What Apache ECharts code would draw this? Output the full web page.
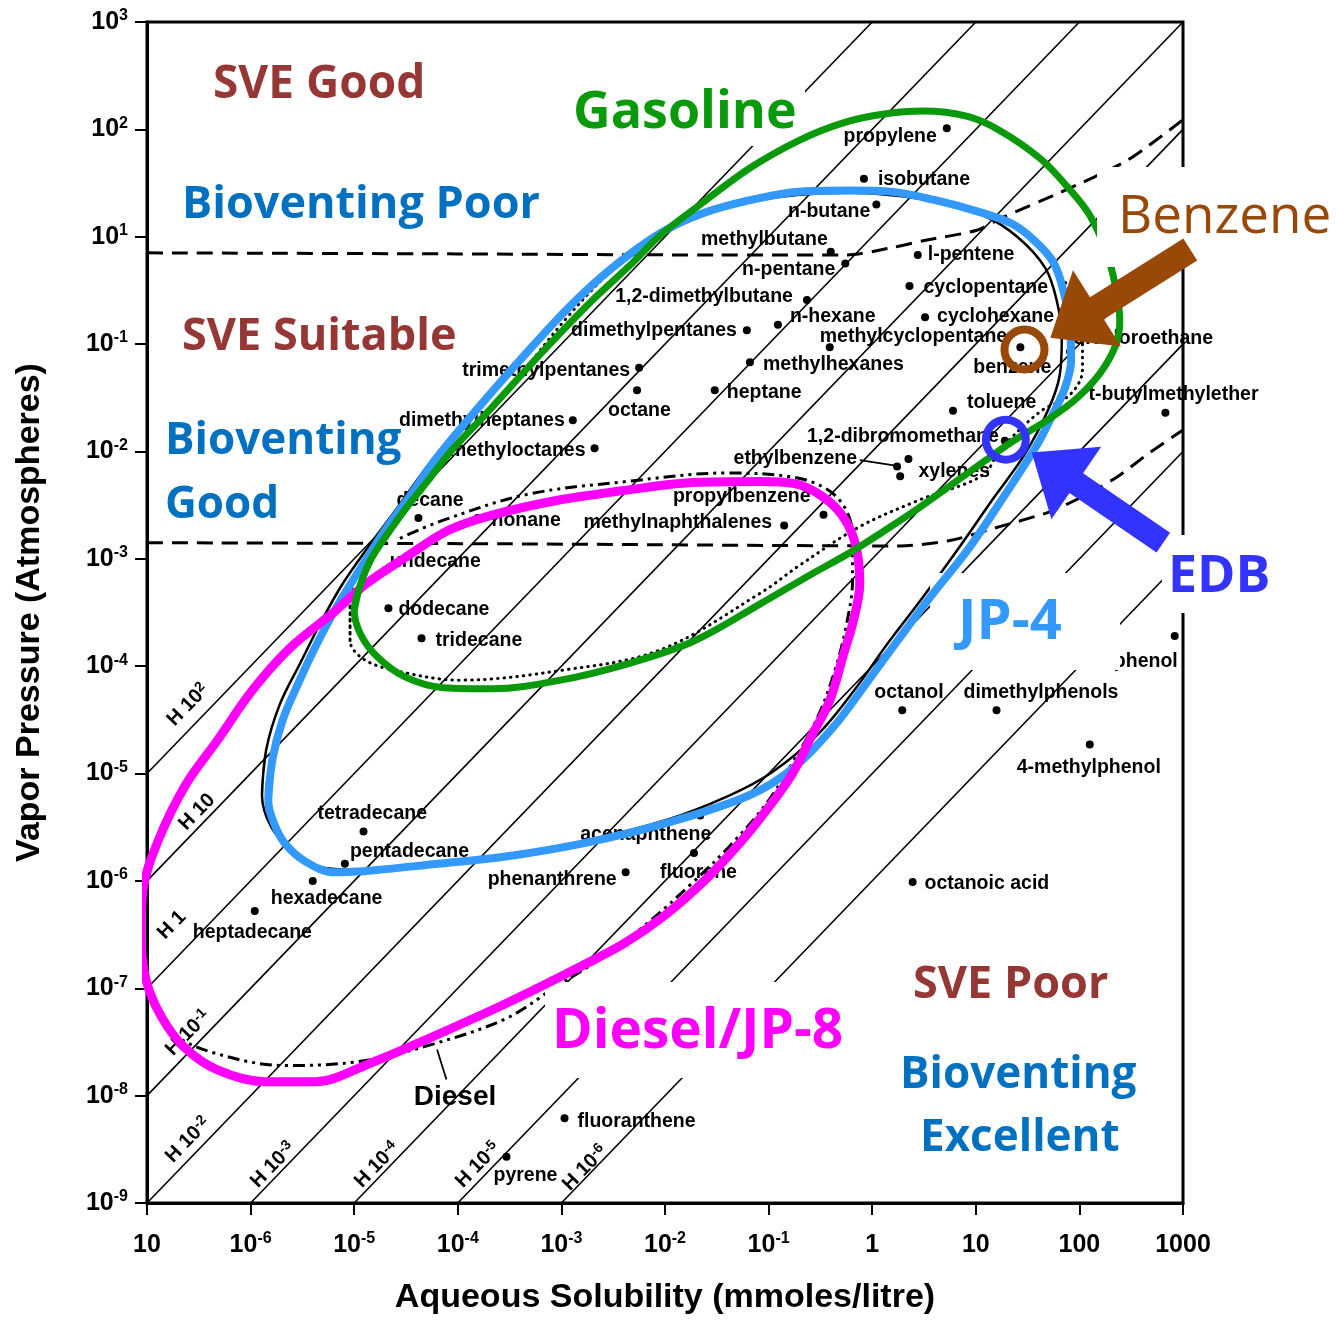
<!DOCTYPE html>
<html>
<head>
<meta charset="utf-8">
<title>Vapor pressure vs aqueous solubility</title>
<script src="https://cdn.jsdelivr.net/npm/echarts@6/dist/echarts.min.js"></script>
<style>
  html, body { margin: 0; padding: 0; background: #fff; }
  #chart { width: 1344px; height: 1322px; }
</style>
</head>
<body>
<div id="chart"></div>
<script>
const xTickLabels = ['10', '10⁻⁶', '10⁻⁵', '10⁻⁴', '10⁻³', '10⁻²', '10⁻¹', '1', '10', '100', '1000'] // 1e-7 .. 1e3
const yTickLabels = ['10⁻⁹', '10⁻⁸', '10⁻⁷', '10⁻⁶', '10⁻⁵', '10⁻⁴', '10⁻³', '10⁻²', '10⁻¹', '10¹', '10²', '10³'] // 1e-9 .. 1e2 (labels as printed)
const henryExponents = [2, 1, 0, -1, -2, -3, -4, -5, -6]
const henryLabels = ['H 10²', 'H 10', 'H 1', 'H 10⁻¹', 'H 10⁻²', 'H 10⁻³', 'H 10⁻⁴', 'H 10⁻⁵', 'H 10⁻⁶']

const compounds = [
  ['propylene', 0.72, 1.01], ['isobutane', -0.08, 0.54], ['n-butane', 0.04, 0.30],
  ['methylbutane', -0.40, -0.14], ['n-pentane', -0.26, -0.25], ['l-pentene', 0.44, -0.17],
  ['cyclopentane', 0.36, -0.46], ['cyclohexane', 0.51, -0.75], ['1,2-dimethylbutane', -0.63, -0.59],
  ['dimethylpentanes', -1.21, -0.87], ['n-hexane', -0.91, -0.82], ['methylcyclopentane', -0.41, -1.03],
  ['methylhexanes', -1.18, -1.17], ['benzene', 1.43, -1.03], ['dichloroethane', 1.91, -1.07],
  ['trimethylpentanes', -2.25, -1.22], ['octane', -2.27, -1.43], ['heptane', -1.52, -1.43],
  ['toluene', 0.78, -1.62], ['t-butylmethylether', 2.83, -1.64], ['dimethylheptanes', -2.89, -1.71],
  ['1,2-dibromomethane', 1.28, -1.90], ['methyloctanes', -2.68, -1.97], ['xylenes', 0.35, -2.07],
  ['ethylbenzene', 0.24, -2.14], ['propylbenzene', -0.47, -2.59], ['decane', -4.38, -2.62],
  ['nonane', -3.81, -2.62], ['methylnaphthalenes', -0.85, -2.69], ['undecane', -4.83, -2.90],
  ['dodecane', -4.67, -3.46], ['tridecane', -4.35, -3.74], ['phenol', 2.92, -3.72],
  ['octanol', 0.29, -4.41], ['dimethylphenols', 1.20, -4.41], ['4-methylphenol', 2.10, -4.73],
  ['acenaphthene', -1.66, -5.39], ['tetradecane', -4.91, -5.54], ['fluorene', -1.72, -5.74],
  ['pentadecane', -5.09, -5.84], ['phenanthrene', -2.38, -5.92], ['hexadecane', -5.40, -6.00],
  ['octanoic acid', 0.39, -6.01], ['heptadecane', -5.96, -6.28], ['fluoranthene', -2.97, -8.21],
  ['pyrene', -3.53, -8.57]
]
const extraDots = [[0.27, -2.23]] // second xylene isomer

// fuel envelopes drawn over the scan
const gasoline = [[-5.00, -3.48], [-4.94, -3.24], [-4.83, -2.99], [-4.65, -2.73], [-4.46, -2.48], [-4.27, -2.25], [-4.06, -1.99], [-3.69, -1.61], [-3.21, -1.10], [-2.72, -0.61], [-2.31, -0.24], [-2.05, 0.01], [-1.66, 0.30], [-1.18, 0.64], [-0.70, 0.90], [-0.28, 1.06], [0.10, 1.14], [0.49, 1.17], [0.92, 1.12], [1.23, 0.99], [1.62, 0.73], [1.88, 0.47], [2.10, 0.20], [2.27, -0.17], [2.36, -0.52], [2.39, -0.79], [2.35, -1.01], [2.20, -1.27], [1.98, -1.50], [1.72, -1.69], [1.35, -1.91], [1.07, -2.10], [0.75, -2.32], [0.43, -2.54], [0.10, -2.75], [-0.21, -2.94], [-0.60, -3.15], [-1.08, -3.42], [-1.73, -3.77], [-2.37, -3.98], [-3.01, -4.13], [-3.66, -4.21], [-4.14, -4.20], [-4.51, -4.10], [-4.78, -3.91], [-4.94, -3.70]]
const jp4 = [[-5.83, -5.25], [-5.79, -4.87], [-5.69, -4.50], [-5.54, -4.16], [-5.38, -3.83], [-5.17, -3.45], [-4.94, -3.09], [-4.70, -2.73], [-4.46, -2.41], [-4.22, -2.08], [-3.88, -1.68], [-3.40, -1.15], [-2.92, -0.65], [-2.51, -0.29], [-2.05, 0.03], [-1.66, 0.21], [-1.18, 0.34], [-0.70, 0.42], [-0.21, 0.43], [0.17, 0.42], [0.61, 0.34], [1.07, 0.22], [1.35, 0.12], [1.57, -0.04], [1.75, -0.24], [1.85, -0.52], [1.91, -0.84], [1.92, -1.15], [1.86, -1.41], [1.74, -1.66], [1.59, -1.94], [1.23, -2.48], [0.92, -2.92], [0.59, -3.32], [0.27, -3.73], [-0.05, -4.15], [-0.36, -4.55], [-0.75, -4.94], [-1.18, -5.20], [-1.98, -5.46], [-2.79, -5.65], [-3.59, -5.78], [-4.20, -5.84], [-4.80, -5.90], [-5.19, -5.92], [-5.47, -5.82], [-5.67, -5.65], [-5.78, -5.45]]
const diesel = [[-3.01, -2.45], [-2.37, -2.36], [-1.73, -2.29], [-1.08, -2.28], [-0.75, -2.30], [-0.48, -2.42], [-0.28, -2.61], [-0.16, -2.87], [-0.12, -3.23], [-0.18, -3.57], [-0.28, -3.90], [-0.41, -4.32], [-0.58, -4.64], [-0.77, -5.00], [-1.02, -5.34], [-1.28, -5.65], [-1.61, -5.99], [-2.00, -6.32], [-2.39, -6.58], [-2.82, -6.80], [-3.53, -7.14], [-4.24, -7.45], [-4.85, -7.70], [-5.38, -7.87], [-5.86, -7.87], [-6.32, -7.76], [-6.64, -7.55], [-6.87, -7.25], [-7.01, -6.92], [-7.06, -6.50], [-7.04, -6.09], [-6.89, -5.62], [-6.63, -5.11], [-6.32, -4.69], [-5.98, -4.22], [-5.62, -3.83], [-5.20, -3.50], [-4.88, -3.23], [-4.51, -2.99], [-4.08, -2.73], [-3.66, -2.59]]

// original printed envelopes (black)
const jp4Outline = [[-5.89, -5.20], [-5.85, -4.78], [-5.72, -4.36], [-5.52, -3.97], [-5.31, -3.57], [-5.11, -3.23], [-4.85, -2.87], [-4.58, -2.52], [-4.32, -2.17], [-3.96, -1.74], [-3.48, -1.21], [-2.99, -0.72], [-2.56, -0.33], [-2.13, -0.03], [-1.76, 0.16], [-1.28, 0.31], [-0.70, 0.39], [-0.21, 0.41], [0.61, 0.33], [1.07, 0.20], [1.40, 0.00], [1.67, -0.29], [1.78, -0.59], [1.83, -0.94], [1.81, -1.29], [1.70, -1.61], [1.47, -2.03], [1.16, -2.45], [0.82, -2.92], [0.48, -3.37], [0.14, -3.80], [-0.17, -4.22], [-0.53, -4.64], [-0.97, -4.99], [-1.37, -5.20], [-1.98, -5.43], [-2.79, -5.63], [-3.59, -5.76], [-4.20, -5.83], [-4.80, -5.90], [-5.28, -5.88], [-5.60, -5.71], [-5.80, -5.50]]
const gasolineOutline = [[-5.04, -3.76], [-5.04, -3.38], [-4.94, -3.10], [-4.75, -2.83], [-4.51, -2.50], [-4.17, -2.10], [-3.79, -1.71], [-3.40, -1.29], [-2.97, -0.78], [-2.53, -0.33], [-2.05, 0.02], [-1.47, 0.27], [-0.89, 0.39], [-0.21, 0.43], [0.56, 0.35], [1.14, 0.20], [1.52, 0.00], [1.76, -0.29], [1.96, -0.59], [2.03, -0.96], [2.03, -1.24], [1.91, -1.47], [1.62, -1.63], [1.23, -1.99], [1.07, -2.22], [0.46, -2.45], [-0.12, -2.70], [-0.70, -3.06], [-1.08, -3.32], [-2.05, -3.85], [-3.01, -4.04], [-3.98, -4.13], [-4.56, -4.05], [-4.90, -3.94]]
const dieselOutline = [[-6.94, -7.11], [-6.76, -7.41], [-6.36, -7.60], [-5.66, -7.72], [-4.94, -7.68], [-4.24, -7.52], [-3.53, -7.28], [-3.06, -6.99], [-2.60, -6.71], [-2.19, -6.41], [-1.76, -6.04], [-1.37, -5.67], [-1.03, -5.29], [-0.75, -4.87], [-0.52, -4.46], [-0.36, -4.04], [-0.25, -3.62], [-0.19, -3.20], [-0.19, -2.78], [-0.26, -2.53], [-0.44, -2.35], [-0.76, -2.24], [-1.40, -2.20], [-2.37, -2.28], [-3.33, -2.40], [-4.14, -2.64], [-4.56, -2.81]]
const upperBoundary = [[-7.00, -0.15], [-4.00, -0.16], [-1.50, -0.17], [-0.24, -0.17], [0.20, -0.10], [0.53, -0.03], [1.01, 0.06], [1.26, 0.18], [1.81, 0.41], [2.46, 0.71], [3.00, 1.09]]
const lowerBoundary = [[-7.00, -2.85], [-3.59, -2.86], [0.27, -2.88], [0.75, -2.83], [1.23, -2.70], [1.72, -2.56], [2.03, -2.42], [2.36, -2.24], [2.68, -2.01], [3.00, -1.80]]
const dieselPointer = [[-4.20, -7.57], [-4.11, -7.85]]
const ethylbenzenePointer = [[-0.12, -2.08], [0.21, -2.13]]

// highlighted compounds and arrows
const rings = [['Benzene', 1.47, -1.05], ['EDB', 1.29, -1.89]]
const benzeneArrow = { tail: [3.07, -0.12], tip: [1.72, -0.94] }
const edbArrow = { tail: [2.81, -2.85], tip: [1.54, -2.01] }

// label placement: [dx, dy, align] from the dot
const labelSpots = {
  'propylene': [-10, 8, 'right'], 'isobutane': [14, 1, 'left'], 'n-butane': [-6, 7, 'right'],
  'methylbutane': [-3, -12, 'right'], 'n-pentane': [-10, 6, 'right'], 'l-pentene': [10, 0, 'left'],
  'cyclopentane': [14, 2, 'left'], 'cyclohexane': [12, -1, 'left'], '1,2-dimethylbutane': [-14, -3, 'right'],
  'dimethylpentanes': [-10, 0, 'right'], 'n-hexane': [12, -8, 'left'], 'methylcyclopentane': [-10, -11, 'left'],
  'methylhexanes': [13, 2, 'left'], 'benzene': [-47, 20, 'left'], 'dichloroethane': [143, -13, 'right'],
  'trimethylpentanes': [-9, 3, 'right'], 'octane': [-29, 20, 'left'], 'heptane': [12, 2, 'left'],
  'toluene': [14, -8, 'left'], 't-butylmethylether': [-77, -18, 'left'], 'dimethylheptanes': [-8, 0, 'right'],
  '1,2-dibromomethane': [-6, -4, 'right'], 'methyloctanes': [-9, 2, 'right'], 'xylenes': [10, 13, 'left'],
  'ethylbenzene': [-40, -8, 'right'], 'propylbenzene': [-13, -18, 'right'], 'decane': [-22, -17, 'left'],
  'nonane': [14, 3, 'left'], 'methylnaphthalenes': [-12, -3, 'right'], 'undecane': [18, 14, 'left'],
  'dodecane': [10, 1, 'left'], 'tridecane': [14, 2, 'left'], 'phenol': [3, 26, 'right'],
  'octanol': [-28, -18, 'left'], 'dimethylphenols': [-33, -18, 'left'], '4-methylphenol': [-73, 23, 'left'],
  'acenaphthene': [-120, 19, 'left'], 'tetradecane': [-46, -18, 'left'], 'fluorene': [-34, 20, 'left'],
  'pentadecane': [5, -12, 'left'], 'phenanthrene': [-9, 7, 'right'], 'hexadecane': [-42, 18, 'left'],
  'octanoic acid': [12, 2, 'left'], 'heptadecane': [-62, 22, 'left'], 'fluoranthene': [13, 3, 'left'],
  'pyrene': [-13, 19, 'left']
}

const sveColor = '#953735'
const bioColor = '#0070c0'
const gasColor = '#0a990a'
const jpColor = '#3399ff'
const dieselColor = '#ff00ff'
const benzColor = '#984807'
const edbColor = '#3333ff'

const regionNotes = [
  { text: 'SVE Good', x: 213, y: 85, color: sveColor, size: 46 },
  { text: 'Gasoline', x: 573, y: 113, color: gasColor, size: 52, mask: [565, 86, 240, 60], maskZ: 3.5 },
  { text: 'Bioventing Poor', x: 182, y: 205, color: bioColor, size: 45 },
  { text: 'Benzene', x: 1118, y: 218, color: benzColor, size: 53, weight: 'normal', mask: [1097, 167, 247, 100], maskZ: 100 },
  { text: 'SVE Suitable', x: 182, y: 337, color: sveColor, size: 45 },
  { text: 'Bioventing', x: 165, y: 441, color: bioColor, size: 44 },
  { text: 'Good', x: 165, y: 505, color: bioColor, size: 44 },
  { text: 'EDB', x: 1168, y: 577, color: edbColor, size: 52, mask: [1162, 535, 182, 78], maskZ: 100 },
  { text: 'JP-4', x: 958, y: 623, color: jpColor, size: 56, mask: [930, 573, 190, 97], maskZ: 3.5 },
  { text: 'SVE Poor', x: 913, y: 985, color: sveColor, size: 45 },
  { text: 'Diesel/JP-8', x: 552, y: 1032, color: dieselColor, size: 55, mask: [545, 982, 335, 96], maskZ: 3.5 },
  { text: 'Bioventing', x: 900, y: 1075, color: bioColor, size: 44 },
  { text: 'Excellent', x: 920, y: 1138, color: bioColor, size: 44 }
]
const henryLabelSpots = [[188, 705], [197, 812], [172, 925], [188, 1033], [188, 1140], [273, 1165], [377, 1165], [478, 1165], [585, 1168]]

const toData = pts => pts.map(([s, v]) => [10 ** s, 10 ** v])
const closeLoop = pts => pts.concat([pts[0], pts[1]])
const scanFont = 'Liberation Sans'

// '10⁻⁶' -> '{b|10}{s|-6}' so the exponent can be drawn as a real superscript
const supChars = '⁻⁰¹²³⁴⁵⁶⁷⁸⁹'
const plainChars = '-0123456789'
function toRich (label) {
  let base = ''
  let sup = ''
  for (const ch of label) {
    const i = supChars.indexOf(ch)
    if (i >= 0) sup += plainChars[i]
    else base += ch
  }
  return sup ? '{b|' + base + '}{s|' + sup + '}' : '{b|' + base + '}'
}

function curve (pts, color, width, z, extra) {
  return Object.assign({
    type: 'line',
    data: toData(pts),
    smooth: 0.35,
    showSymbol: false,
    symbol: 'none',
    silent: true,
    clip: false,
    z: z,
    lineStyle: { color: color, width: width }
  }, extra || {})
}

const chart = echarts.init(document.getElementById('chart'))

const henrySeries = henryExponents.map(k => {
  const x0 = Math.max(-7, -9 - k)
  const x1 = Math.min(3, 2 - k)
  return curve([[x0, x0 + k], [x1, x1 + k]], '#000', 1.6, 1, { smooth: false })
})

const dots = compounds.map(([name, s, v]) => {
  const spot = labelSpots[name]
  return {
    name: name,
    value: [10 ** s, 10 ** v],
    label: spot
      ? { show: true, position: 'inside', color: '#000', align: spot[2], verticalAlign: 'middle', offset: [spot[0], spot[1]] }
      : { show: false }
  }
}).concat(extraDots.map(([s, v]) => ({ name: '', value: [10 ** s, 10 ** v], label: { show: false } })))

const ringColors = { Benzene: benzColor, EDB: edbColor }

const tickRich = {
  b: { fontSize: 25, fontWeight: 'bold', fontFamily: scanFont, color: '#000', lineHeight: 28 },
  s: { fontSize: 16, fontWeight: 'bold', fontFamily: scanFont, color: '#000', lineHeight: 16, verticalAlign: 'top' }
}

const option = {
  animation: false,
  backgroundColor: '#fff',
  grid: { left: 147, right: 161, top: 22, bottom: 119, show: true, borderColor: '#000', borderWidth: 3, outerBoundsMode: 'none' },
  xAxis: {
    type: 'log',
    logBase: 10,
    min: 1e-7,
    max: 1e3,
    interval: 1,
    name: 'Aqueous Solubility (mmoles/litre)',
    nameLocation: 'middle',
    nameGap: 78,
    nameTextStyle: { color: '#000', fontSize: 34, fontWeight: 'bold', fontFamily: scanFont },
    axisLine: { show: true, onZero: false, lineStyle: { color: '#000', width: 3 } },
    axisTick: { show: true, length: 12, lineStyle: { color: '#000', width: 2 } },
    minorTick: { show: false },
    splitLine: { show: false },
    axisLabel: {
      margin: 28,
      showMinLabel: true,
      showMaxLabel: true,
      rich: tickRich,
      formatter: v => toRich(xTickLabels[Math.round(Math.log10(v)) + 7])
    }
  },
  yAxis: {
    type: 'log',
    logBase: 10,
    min: 1e-9,
    max: 1e2,
    interval: 1,
    name: 'Vapor Pressure (Atmospheres)',
    nameLocation: 'middle',
    nameRotate: 90,
    nameGap: 100,
    nameTextStyle: { color: '#000', fontSize: 34, fontWeight: 'bold', fontFamily: scanFont },
    axisLine: { show: true, onZero: false, lineStyle: { color: '#000', width: 3 } },
    axisTick: { show: true, length: 12, lineStyle: { color: '#000', width: 2 } },
    minorTick: { show: false },
    splitLine: { show: false },
    axisLabel: {
      margin: 19,
      showMinLabel: true,
      showMaxLabel: true,
      rich: tickRich,
      formatter: v => toRich(yTickLabels[Math.round(Math.log10(v)) + 9])
    }
  },
  series: henrySeries.concat([
    curve(upperBoundary, '#000', 3, 2, { smooth: 0.25, lineStyle: { color: '#000', width: 3, type: [16, 9] } }),
    curve(lowerBoundary, '#000', 3, 2, { smooth: 0.25, lineStyle: { color: '#000', width: 3, type: [16, 9] } }),
    curve(closeLoop(jp4Outline), '#000', 2.5, 2),
    curve(closeLoop(gasolineOutline), '#000', 3, 2, { lineStyle: { color: '#000', width: 3, type: [0.5, 6], cap: 'round' } }),
    curve(dieselOutline, '#000', 3, 2, { lineStyle: { color: '#000', width: 3, type: [12, 5, 3, 5, 3, 5] } }),
    curve(dieselPointer, '#000', 1.8, 2, { smooth: false }),
    curve(ethylbenzenePointer, '#000', 1.8, 2, { smooth: false }),
    {
      type: 'scatter',
      z: 3,
      silent: true,
      symbol: 'circle',
      symbolSize: 8,
      itemStyle: { color: '#000', opacity: 1 },
      label: { show: true, formatter: '{b}', color: '#000', fontSize: 19.5, fontWeight: 'bold', fontFamily: scanFont },
      data: dots
    },
    curve(closeLoop(jp4), jpColor, 8, 4),
    curve(closeLoop(diesel), dieselColor, 9, 5),
    curve(closeLoop(gasoline), gasColor, 7, 6),
    {
      type: 'scatter',
      z: 7,
      silent: true,
      symbol: 'circle',
      symbolSize: 40,
      data: rings.map(([name, s, v]) => ({
        name: name,
        value: [10 ** s, 10 ** v],
        itemStyle: { color: 'rgba(0,0,0,0)', borderColor: ringColors[name], borderWidth: 8, opacity: 1 }
      }))
    }
  ])
}

chart.setOption(option)

// annotations layer: masks, region notes, H labels and arrows
const px = p => chart.convertToPixel({ gridIndex: 0 }, [10 ** p[0], 10 ** p[1]])

function arrowPolygon (tail, tip, shaftHalf, headHalf, headLen) {
  const [ax, ay] = tail
  const [tx, ty] = tip
  const len = Math.hypot(tx - ax, ty - ay)
  const ux = (tx - ax) / len
  const uy = (ty - ay) / len
  const nx = -uy
  const ny = ux
  const bx = tx - ux * headLen
  const by = ty - uy * headLen
  return [
    [ax + nx * shaftHalf, ay + ny * shaftHalf],
    [bx + nx * shaftHalf, by + ny * shaftHalf],
    [bx + nx * headHalf, by + ny * headHalf],
    [tx, ty],
    [bx - nx * headHalf, by - ny * headHalf],
    [bx - nx * shaftHalf, by - ny * shaftHalf],
    [ax - nx * shaftHalf, ay - ny * shaftHalf]
  ]
}

const graphics = []
regionNotes.forEach(n => {
  if (n.mask) {
    graphics.push({
      type: 'rect',
      silent: true,
      z: n.maskZ,
      shape: { x: n.mask[0], y: n.mask[1], width: n.mask[2], height: n.mask[3] },
      style: { fill: '#fff' }
    })
  }
  graphics.push({
    type: 'text',
    silent: true,
    z: 101,
    x: n.x,
    y: n.y,
    style: {
      text: n.text,
      fill: n.color,
      fontSize: n.size,
      fontWeight: n.weight || 'bold',
      fontFamily: 'Open Sans',
      align: 'left',
      textAlign: 'left',
      verticalAlign: 'middle',
      textVerticalAlign: 'middle'
    }
  })
})

const henryRich = {
  b: { fontSize: 20, fontWeight: 'bold', fontFamily: scanFont, fill: '#000', color: '#000', lineHeight: 22 },
  s: { fontSize: 14, fontWeight: 'bold', fontFamily: scanFont, fill: '#000', color: '#000', lineHeight: 13, verticalAlign: 'top' }
}
henryLabels.forEach((t, i) => {
  graphics.push({
    type: 'text',
    silent: true,
    z: 3,
    x: henryLabelSpots[i][0],
    y: henryLabelSpots[i][1],
    rotation: 0.8,
    style: {
      text: toRich(t),
      rich: henryRich,
      fill: '#000',
      align: 'center',
      textAlign: 'center',
      verticalAlign: 'middle',
      textVerticalAlign: 'middle'
    }
  })
})

graphics.push({
  type: 'text',
  silent: true,
  z: 3,
  x: 455,
  y: 1097,
  style: { text: 'Diesel', fill: '#000', fontSize: 28, fontWeight: 'bold', fontFamily: scanFont, align: 'center', textAlign: 'center', verticalAlign: 'middle', textVerticalAlign: 'middle' }
})

graphics.push({
  type: 'polygon',
  silent: true,
  z: 102,
  shape: { points: arrowPolygon(px(benzeneArrow.tail), px(benzeneArrow.tip), 13, 45, 55) },
  style: { fill: benzColor }
})
graphics.push({
  type: 'polygon',
  silent: true,
  z: 102,
  shape: { points: arrowPolygon(px(edbArrow.tail), px(edbArrow.tip), 12, 44, 54) },
  style: { fill: edbColor }
})

chart.setOption({ graphic: { elements: graphics } })
</script>
</body>
</html>
